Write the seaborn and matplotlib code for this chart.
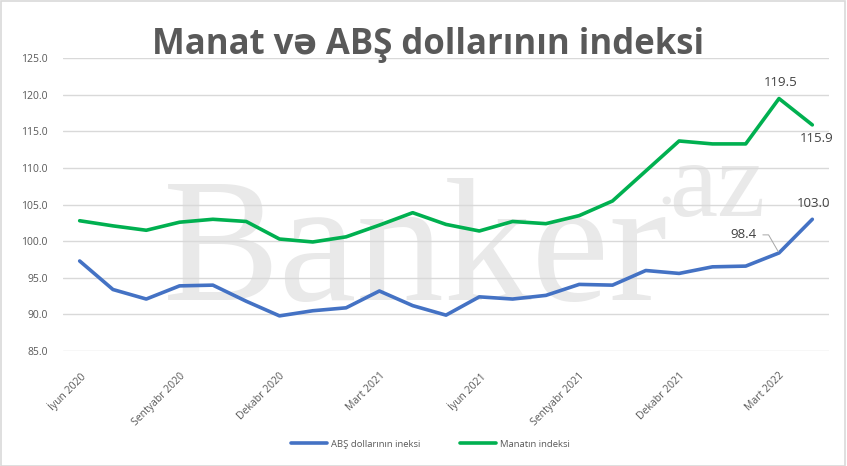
import numpy as np
import pandas as pd
import seaborn as sns
import matplotlib.pyplot as plt
from matplotlib.patches import Rectangle
from matplotlib.ticker import FormatStrFormatter

# monthly index values, June 2020 .. April 2022
months = ['2020-06', '2020-07', '2020-08', '2020-09', '2020-10', '2020-11', '2020-12',
          '2021-01', '2021-02', '2021-03', '2021-04', '2021-05', '2021-06', '2021-07',
          '2021-08', '2021-09', '2021-10', '2021-11', '2021-12', '2022-01', '2022-02',
          '2022-03', '2022-04']
usd_index = [97.3, 93.4, 92.1, 93.9, 94.0, 91.8, 89.8, 90.5, 90.9, 93.2, 91.2, 89.9,
             92.4, 92.1, 92.6, 94.1, 94.0, 96.0, 95.6, 96.5, 96.6, 98.4, 103.0]
azn_index = [102.8, 102.1, 101.5, 102.6, 103.0, 102.7, 100.3, 99.9, 100.6, 102.2, 103.9,
             102.3, 101.4, 102.7, 102.4, 103.5, 105.5, 109.6, 113.7, 113.3, 113.3,
             119.5, 115.9]
tick_pos = [0, 3, 6, 9, 12, 15, 18, 21]
tick_labels = ['İyun 2020', 'Sentyabr 2020', 'Dekabr 2020', 'Mart 2021',
               'İyun 2021', 'Sentyabr 2021', 'Dekabr 2021', 'Mart 2022']
series_names = ['ABŞ dollarının ineksi', 'Manatın indeksi']

n = len(months)
df = pd.DataFrame({
    'x': list(range(n)) * 2,
    'value': usd_index + azn_index,
    'series': [series_names[0]] * n + [series_names[1]] * n,
})

sns.set_style('white')
plt.rcParams['font.family'] = ['Open Sans', 'DejaVu Sans']

fig = plt.figure(figsize=(8.47, 4.66), dpi=100)
ax = fig.add_axes([0.0744, 0.2468, 0.9043, 0.6281])

# watermark
wm = dict(transform=ax.transAxes, family='Liberation Serif', color='#E9E9E9',
          zorder=0.3, va='baseline')
ax.text(0.13, 0.174, 'Banker', fontsize=126, **wm)
ax.text(0.776, 0.50, '.', fontsize=50, **wm)
ax.text(0.792, 0.462, 'az', fontsize=78, **wm)

sns.lineplot(data=df, x='x', y='value', hue='series', ax=ax,
             palette=['#4472C4', '#00B050'], linewidth=2.6, legend=True, zorder=3)

ax.set_xlim(-0.5, n - 0.5)
ax.set_ylim(85, 125)
ax.set_yticks(np.arange(85, 126, 5))
ax.yaxis.set_major_formatter(FormatStrFormatter('%.1f'))
ax.set_xticks(tick_pos)
ax.set_xticklabels(tick_labels, rotation=45, ha='right', rotation_mode='anchor')
ax.tick_params(axis='both', length=0, labelsize=7.5, labelcolor='#595959')
ax.tick_params(axis='y', pad=11)
ax.tick_params(axis='x', pad=14)
ax.set_xlabel('')
ax.set_ylabel('')
ax.grid(axis='y', color='#D9D9D9', linewidth=1)
ax.set_axisbelow(True)
for s in ax.spines.values():
    s.set_visible(False)

# data labels
lab = dict(fontsize=9.5, color='#404040', textcoords='offset points')
ax.annotate(f'{azn_index[21]:.1f}', (21, azn_index[21]), xytext=(1, 7),
            ha='center', va='bottom', **lab)
ax.annotate(f'{azn_index[22]:.1f}', (22, azn_index[22]), xytext=(3, -5),
            ha='center', va='top', **lab)
ax.annotate(f'{usd_index[22]:.1f}', (22, usd_index[22]), xytext=(1, 7),
            ha='center', va='bottom', **lab)
ax.annotate(f'{usd_index[21]:.1f}', (21, usd_index[21]), xytext=(-16, 13),
            ha='right', va='center',
            arrowprops=dict(arrowstyle='-', color='#A6A6A6', lw=0.7,
                            connectionstyle='angle,angleA=0,angleB=120,rad=0',
                            shrinkA=2, shrinkB=1), **lab)

ax.legend(loc='center', bbox_to_anchor=(0.508, 0.047), bbox_transform=fig.transFigure,
          ncol=2, frameon=False, fontsize=6.8, handlelength=3.8, handletextpad=0.4,
          columnspacing=4.2, labelcolor='#595959')

fig.text(0.505, 0.885, 'Manat və ABŞ dollarının indeksi', ha='center', va='baseline',
         fontsize=25, fontweight='bold', color='#595959')

fig.patches.append(Rectangle((0.001, 0.001), 0.997, 0.997, transform=fig.transFigure,
                             fill=False, edgecolor='#D9D9D9', linewidth=1.2))

fig.savefig('out.png', dpi=100)
